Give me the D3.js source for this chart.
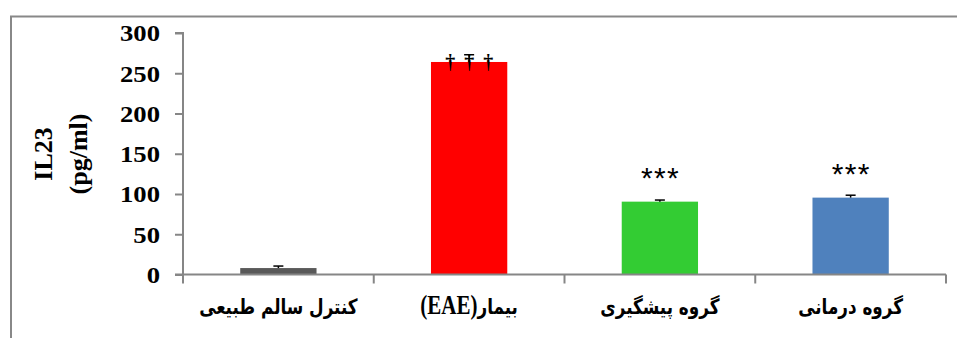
<!DOCTYPE html>
<html>
<head>
<meta charset="utf-8">
<script src="https://cdn.jsdelivr.net/npm/d3@7"></script>
<style>
  html, body { margin: 0; padding: 0; background: #fff; }
  svg { display: block; }
</style>
</head>
<body>
<svg id="chart" width="957" height="338"></svg>
<script>
// IL-23 levels per group
const categories = ["کنترل سالم طبیعی", "بیمار(EAE)", "گروه پیشگیری", "گروه درمانی"];
const values = [8, 264, 90.5, 95.5];
const errors = [2.5, 9, 2, 3];
const colors = ["#595959", "#FF0000", "#33CC33", "#4F81BD"];
const marks = ["", "†††", "***", "***"];
const yTicks = [0, 50, 100, 150, 200, 250, 300];

const svg = d3.select("#chart");
const axisColor = "#868686";
const serif = "'Liberation Serif', 'Times New Roman', serif";
const stretch = 1.16; // horizontal stretch of tick numbers

// outer frame (top and left edges)
svg.append("path")
  .attr("d", "M11,338 V16.5 H957")
  .attr("fill", "none")
  .attr("stroke", "#888")
  .attr("stroke-width", 2);

const x0 = 183, x1 = 946, yTop = 33, yBot = 274.5;

const x = d3.scaleBand().domain(categories).range([x0, x1]).paddingInner(0.6).paddingOuter(0.3);
const y = d3.scaleLinear().domain([0, 300]).range([yBot, yTop]);

// bars
svg.selectAll("rect.bar").data(categories).join("rect")
  .attr("class", "bar")
  .attr("x", d => x(d))
  .attr("width", x.bandwidth())
  .attr("y", (d, i) => y(values[i]))
  .attr("height", (d, i) => yBot - y(values[i]))
  .attr("fill", (d, i) => colors[i]);

// error bars (upper side only)
const capW = 10;
categories.forEach((c, i) => {
  const cx = x(c) + x.bandwidth() / 2;
  const g = svg.append("g").attr("stroke", "#000").attr("stroke-width", 1.5);
  g.append("line").attr("x1", cx).attr("x2", cx).attr("y1", y(values[i])).attr("y2", y(values[i] + errors[i]));
  g.append("line").attr("x1", cx - capW / 2).attr("x2", cx + capW / 2)
    .attr("y1", y(values[i] + errors[i])).attr("y2", y(values[i] + errors[i]));
});

// significance marks, one glyph at a time
categories.forEach((c, i) => {
  if (!marks[i]) return;
  const cx = x(c) + x.bandwidth() / 2;
  const chars = Array.from(marks[i]);
  const isDagger = chars[0] === "†";
  const gap = isDagger ? 19 : 13;
  chars.forEach((ch, k) => {
    svg.append("text")
      .attr("x", cx + (k - (chars.length - 1) / 2) * gap)
      .attr("y", isDagger ? y(values[i]) + 7 : y(values[i]) - 14)
      .attr("text-anchor", "middle")
      .attr("font-family", isDagger ? serif : "'Liberation Sans', Arial, sans-serif")
      .attr("font-weight", isDagger ? "bold" : "normal")
      .attr("font-size", isDagger ? 20 : 30)
      .attr("fill", "#000")
      .text(ch);
  });
});

// y axis
const yAxis = d3.axisLeft(y).tickValues(yTicks).tickSize(8).tickPadding(0);
const gy = svg.append("g").attr("transform", `translate(${x0},0)`).call(yAxis);
gy.select(".domain").attr("stroke", axisColor).attr("stroke-width", 2).attr("d", `M-8,${yTop}H0V${yBot}H-8`);
gy.selectAll(".tick line").attr("stroke", axisColor).attr("stroke-width", 2);
gy.selectAll(".tick text")
  .attr("x", -23 / stretch)
  .attr("transform", `scale(${stretch},1)`)
  .attr("font-family", serif)
  .attr("font-weight", "bold")
  .attr("font-size", 23)
  .attr("fill", "#000")
  .attr("dy", "0.34em");

// x axis line and category separators
const gx = svg.append("g");
gx.append("line").attr("x1", x0).attr("x2", x1).attr("y1", yBot).attr("y2", yBot)
  .attr("stroke", axisColor).attr("stroke-width", 2);
const sepXs = d3.range(categories.length + 1).map(k => x0 + k * (x1 - x0) / categories.length);
gx.selectAll("line.sep").data(sepXs).join("line")
  .attr("class", "sep")
  .attr("x1", d => d).attr("x2", d => d)
  .attr("y1", yBot).attr("y2", yBot + 9)
  .attr("stroke", axisColor).attr("stroke-width", 2);

// category labels: Arabic-script runs in a condensed sans, Latin runs in serif
const labelScale = 0.8;
const labelSize = 21;
gx.selectAll("text.cat").data(categories).join("text")
  .attr("class", "cat")
  .attr("transform", d => `translate(${x(d) + x.bandwidth() / 2},314) scale(${labelScale},1)`)
  .attr("text-anchor", "middle")
  .attr("direction", "rtl")
  .attr("font-family", "'DejaVu Sans', sans-serif")
  .attr("font-weight", "bold")
  .attr("font-size", labelSize)
  .attr("fill", "#000")
  .each(function (d) {
    const t = d3.select(this);
    d.split(/([A-Za-z()]+)/).filter(s => s.length).forEach(run => {
      const latin = /[A-Za-z]/.test(run);
      const ts = t.append("tspan").text(run);
      if (latin) ts.attr("font-family", serif).attr("font-size", labelSize / labelScale);
    });
  });

// y axis title
const yTitle = svg.append("text")
  .attr("transform", "translate(0,154) rotate(-90)")
  .attr("text-anchor", "middle")
  .attr("font-family", serif)
  .attr("font-weight", "bold")
  .attr("font-size", 26)
  .attr("fill", "#000");
yTitle.append("tspan").attr("x", 0).attr("y", 52).text("IL23");
yTitle.append("tspan").attr("x", 0).attr("y", 87).text("(pg/ml)");
</script>
</body>
</html>
